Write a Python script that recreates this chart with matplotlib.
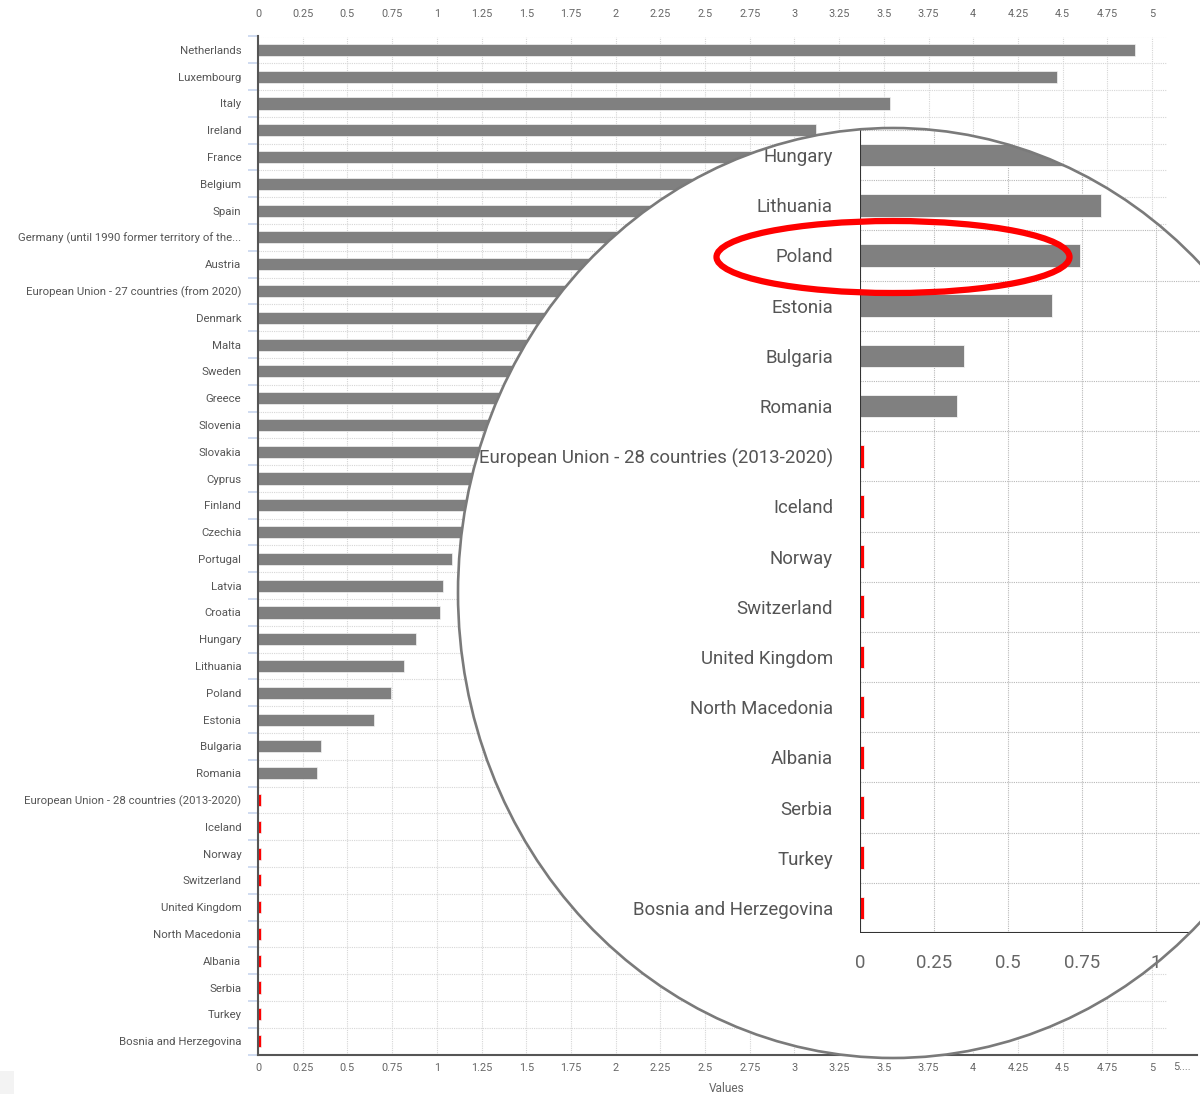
import matplotlib
matplotlib.use("Agg")
import matplotlib.pyplot as plt
import matplotlib.transforms as mtransforms
from matplotlib.patches import Ellipse, Rectangle
import numpy as np

plt.rcParams.update({
    "font.family": ["Roboto", "DejaVu Sans"],
    "axes.edgecolor": "#555555",
})

countries = [
    "Netherlands", "Luxembourg", "Italy", "Ireland", "France", "Belgium", "Spain",
    "Germany (until 1990 former territory of the...", "Austria",
    "European Union - 27 countries (from 2020)", "Denmark", "Malta", "Sweden",
    "Greece", "Slovenia", "Slovakia", "Cyprus", "Finland", "Czechia", "Portugal",
    "Latvia", "Croatia", "Hungary", "Lithuania", "Poland", "Estonia", "Bulgaria",
    "Romania", "European Union - 28 countries (2013-2020)", "Iceland", "Norway",
    "Switzerland", "United Kingdom", "North Macedonia", "Albania", "Serbia",
    "Turkey", "Bosnia and Herzegovina",
]
values = [
    4.905, 4.47, 3.535, 3.12, 3.0, 2.7, 2.45,
    2.3, 2.1,
    2.0, 1.85, 1.7, 1.6,
    1.5, 1.42, 1.33, 1.26, 1.2, 1.16, 1.085,
    1.035, 1.018, 0.886, 0.815, 0.742, 0.648, 0.353,
    0.328, 0.015, 0.015, 0.015,
    0.015, 0.015, 0.015, 0.015, 0.015,
    0.015, 0.015,
]
main_ticks = np.arange(0, 5.01, 0.25)
inset_ticks = [0, 0.25, 0.5, 0.75, 1]
zoom_first = "Hungary"   # first row shown in the magnifier

W, H = 1200, 1094
BAR = "#808080"
MISSING = "#ff0000"
colors = [MISSING if v < 0.05 else BAR for v in values]
y = np.arange(len(countries))


def fx(px):
    return px / W


def fy(py):
    return 1 - py / H


def style_axes(ax, label_size, ypad, blue_len, grid_col):
    ax.set_yticks(y)
    ax.set_yticklabels(countries, fontsize=label_size, color="#555555")
    ax.set_yticks(np.arange(-0.5, len(countries), 1), minor=True)
    ax.tick_params(axis="y", which="major", length=0, pad=ypad)
    ax.tick_params(axis="y", which="minor", length=blue_len, width=1.2, color="#c8d5ee")
    ax.grid(axis="y", which="minor", linestyle=(0, (1, 1)), color=grid_col, linewidth=0.8)
    ax.grid(axis="x", which="major", linestyle=(0, (1, 1)), color=grid_col, linewidth=0.8)
    ax.set_axisbelow(True)
    for s in ("top", "right"):
        ax.spines[s].set_visible(False)


fig = plt.figure(figsize=(W / 100, H / 100), dpi=100)

# ---- main chart
ax = fig.add_axes([fx(258), fy(1054.5), fx(1167 - 258), (1054.5 - 36.5) / H])
ax.set_zorder(1)
ax.barh(y, values, height=0.45, color=colors, edgecolor="#f4f4f4", linewidth=0.5)
style_axes(ax, 8.2, 12, 7.5, "#d6d6d6")
ax.set_xticks(main_ticks)
ax.set_xticklabels([f"{t:g}" for t in main_ticks])
ax.set_ylim(len(countries) - 0.5, -0.5)
ax.set_xlim(0, (1167 - 258) / 178.8)
ax.tick_params(axis="x", which="both", length=0, labelsize=7.8, labelcolor="#666666",
               top=True, labeltop=True, bottom=True, labelbottom=True, pad=6)
for t in ax.xaxis.get_major_ticks():
    t.label2.set_transform(t.label2.get_transform()
                           + mtransforms.ScaledTranslation(0, 9 / 100, fig.dpi_scale_trans))
ax.spines["bottom"].set_bounds(0, 5.25)
ax.spines["bottom"].set_linewidth(1.5)
ax.spines["left"].set_linewidth(1.5)
blend = mtransforms.blended_transform_factory(ax.transData, ax.transAxes)
ax.text(5.17, 0, "5....", fontsize=7.8, color="#666666", ha="center", va="top",
        transform=blend + mtransforms.ScaledTranslation(0, -8 / 100, fig.dpi_scale_trans))
ax.set_xlabel("Values", fontsize=8.6, color="#666666")
ax.xaxis.set_label_coords((727 - 258) / (1167 - 258), -0.027)

fig.add_artist(Rectangle((0, 0), fx(14), 23 / H, transform=fig.transFigure,
                         facecolor="#f3f3f3", edgecolor="none", zorder=0))

# ---- magnifier
cx, cy, rx, ry = 893, 593, 435, 465
lens = dict(xy=(fx(cx), fy(cy)), width=2 * rx / W, height=2 * ry / H,
            transform=fig.transFigure)
fig.add_artist(Ellipse(**lens, facecolor="white", edgecolor="none", zorder=2))
clip = Ellipse(**lens, facecolor="none")

first = countries.index(zoom_first)
ax_in = fig.add_axes([fx(860), fy(933), fx(1200 - 860), (933 - 130) / H])
ax_in.set_zorder(3)
ax_in.patch.set_visible(False)
ax_in.barh(y, values, height=0.45, color=colors, edgecolor="#f4f4f4", linewidth=0.6)
style_axes(ax_in, 13.4, 19.5, 12, "#b8b8b8")
ax_in.set_xticks(inset_ticks)
ax_in.set_xticklabels([f"{t:g}" for t in inset_ticks])
ax_in.set_ylim(len(countries) - 0.5, first - 0.5)
ax_in.set_xlim(0, (1200 - 860) / 296)
ax_in.tick_params(axis="x", length=0, labelsize=13.4, labelcolor="#666666", pad=15)
for s in ("left", "bottom"):
    ax_in.spines[s].set_color("#333333")
    ax_in.spines[s].set_linewidth(1.5)

fig.canvas.draw()
arts = list(ax_in.patches) + list(ax_in.spines.values())
for axis in (ax_in.xaxis, ax_in.yaxis):
    for t in axis.get_major_ticks() + axis.get_minor_ticks():
        arts += [t.tick1line, t.tick2line, t.gridline, t.label1, t.label2]
for a in arts:
    a.set_clip_on(True)
    a.set_clip_path(clip)

fig.add_artist(Ellipse(**lens, facecolor="none", edgecolor="#7a7a7a", linewidth=1.9, zorder=10))
# highlight ring around Poland
fig.add_artist(Ellipse((fx(893), fy(257)), 353 / W, 72 / H, transform=fig.transFigure,
                       facecolor="none", edgecolor="#ff0000", linewidth=4.5, zorder=11))

fig.savefig("out.png", dpi=100)
